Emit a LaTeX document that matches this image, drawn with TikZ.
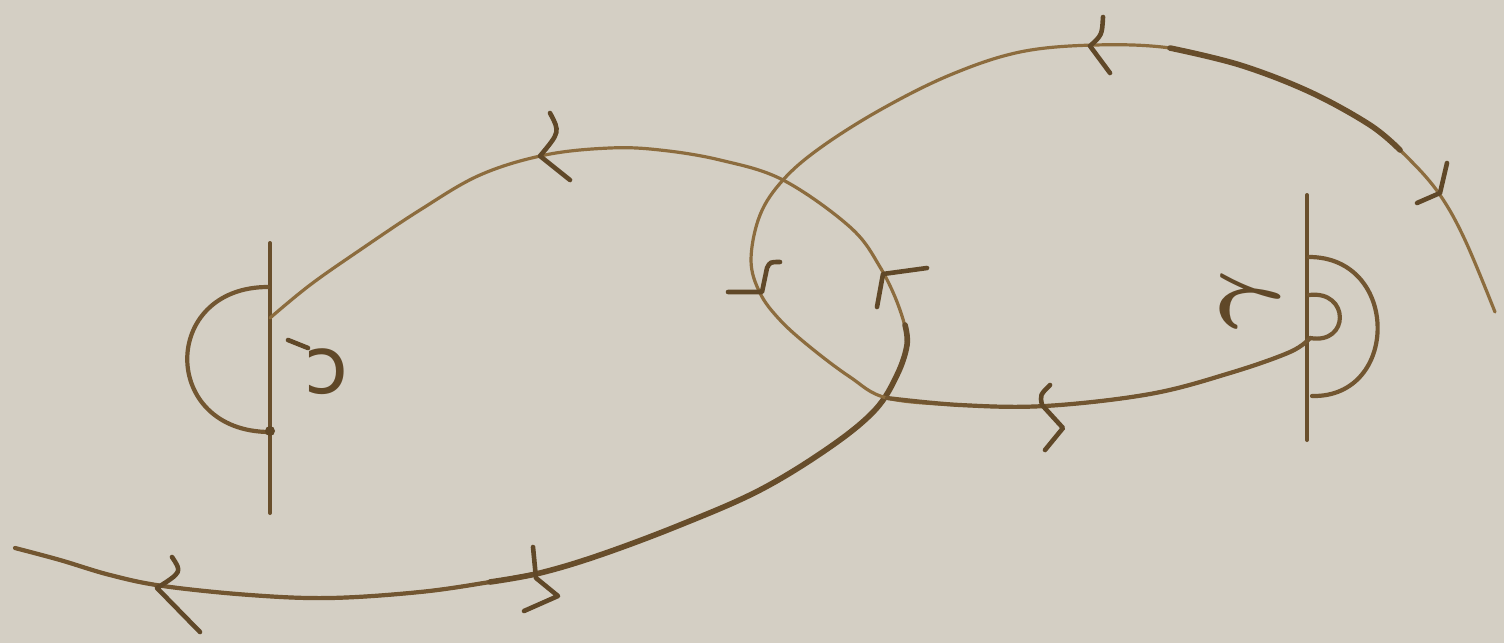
\documentclass[tikz,border=0pt]{standalone}
\usepackage{fontspec}
\usepackage{bm}
\newfontfamily\dejavu{DejaVu Sans}
\definecolor{paper}{RGB}{212,207,196}
\definecolor{ink}{RGB}{140,108,62}
\definecolor{inkdark}{RGB}{96,72,40}
\tikzset{
  curve/.style={draw=ink, line width=1.6pt, line cap=round, line join=round},
  heavy/.style={draw=inkdark!85!ink, line width=2.8pt, line cap=round, line join=round},
  mid/.style={draw=inkdark!60!ink, line width=2.1pt, line cap=round, line join=round},
  barb/.style={draw=inkdark, line width=2.3pt, line cap=round, line join=round},
  bar/.style={draw=inkdark!80!ink, line width=2pt, line cap=round},
  lbl/.style={text=inkdark, inner sep=0pt, font=\dejavu\fontsize{40}{40}\selectfont},
  mlbl/.style={text=inkdark, inner sep=0pt, scale=4.6},
}
\begin{document}
\begin{tikzpicture}[x=0.5pt,y=-0.5pt]
\fill[paper] (0,0) rectangle (1504,643);
\useasboundingbox (0,0) rectangle (1504,643);

% end points and nodes
\coordinate (endA) at (15,548);
\coordinate (L) at (270,318);
\coordinate (R) at (1310,338);
\coordinate (endB) at (1495,312);

% left node: bar with half circle
\draw[bar] (270,243) -- (270,513);
\draw[mid] (268,287) .. controls (160,287) and (160,432) .. (270,432);
\fill[inkdark] (270,431) circle (5);

% right node: bar with two half loops
\draw[bar] (1307,195) -- (1307,440);
\draw[mid] (1309,257) .. controls (1400,257) and (1400,398) .. (1312,396);
\draw[mid] (1309,295) .. controls (1350,290) and (1350,345) .. (R);

% path A : from the far left to the left node
\draw[curve] plot[smooth, tension=0.6] coordinates {(endA) (60,560) (110,575) (163,586) (250,595) (330,598) (420,592) (490,582) (540,573) (600,555) (680,525) (760,490) (830,447) (875,410) (897,375) (907,345) (900,310) (880,267) (850,227) (783,180) (720,160) (660,150) (610,148) (545,155) (480,175) (420,210) (360,250) (310,285) (L)};
\draw[mid] plot[smooth, tension=0.6] coordinates {(endA) (60,560) (110,575) (163,586) (250,595) (330,598) (420,592) (490,582) (540,573)};
\draw[heavy] plot[smooth, tension=0.6] coordinates {(490,582) (540,573) (600,555) (680,525) (760,490) (830,447) (875,410) (897,375) (907,345) (905,325)};

% path B : from the right node to the far right
\draw[curve] plot[smooth, tension=0.6] coordinates {(R) (1290,352) (1230,373) (1150,394) (1045,406) (960,405) (887,398) (850,377) (810,347) (780,320) (760,293) (751,260) (760,215) (783,180) (820,148) (880,110) (950,75) (1020,52) (1095,45) (1170,48) (1240,65) (1310,92) (1370,125) (1410,160) (1440,195) (1465,240) (endB)};
\draw[mid] plot[smooth, tension=0.6] coordinates {(R) (1290,352) (1230,373) (1150,394) (1045,406) (960,405) (887,398)};
\draw[heavy] plot[smooth, tension=0.6] coordinates {(1170,48) (1240,65) (1310,92) (1370,125) (1400,150)};

% hand drawn arrow heads
\draw[barb] (172,557) .. controls (182,572) .. (157,588) -- (200,632);
\draw[barb] (533,547) -- (536,578) -- (558,596) -- (524,611);
\draw[barb] (550,113) .. controls (560,132) .. (540,156) -- (570,180);
\draw[barb] (927,268) -- (883,274) -- (877,307);
\draw[barb] (728,292) -- (762,292) -- (767,268) .. controls (770,262) .. (780,262);
\draw[barb] (1050,385) .. controls (1040,395) .. (1042,405) -- (1063,428) -- (1045,450);
\draw[barb] (1103,17) .. controls (1102,35) .. (1090,46) -- (1110,73);
\draw[barb] (1447,163) -- (1440,193) -- (1417,203);

% labels
\draw[barb] (288,340) -- (308,348);
\node[lbl] (lc) at (326,372) {ɔ};
\node[mlbl, rotate=90] (rg) at (1250,300) {$\bm{\gamma}$};
\end{tikzpicture}
\end{document}
